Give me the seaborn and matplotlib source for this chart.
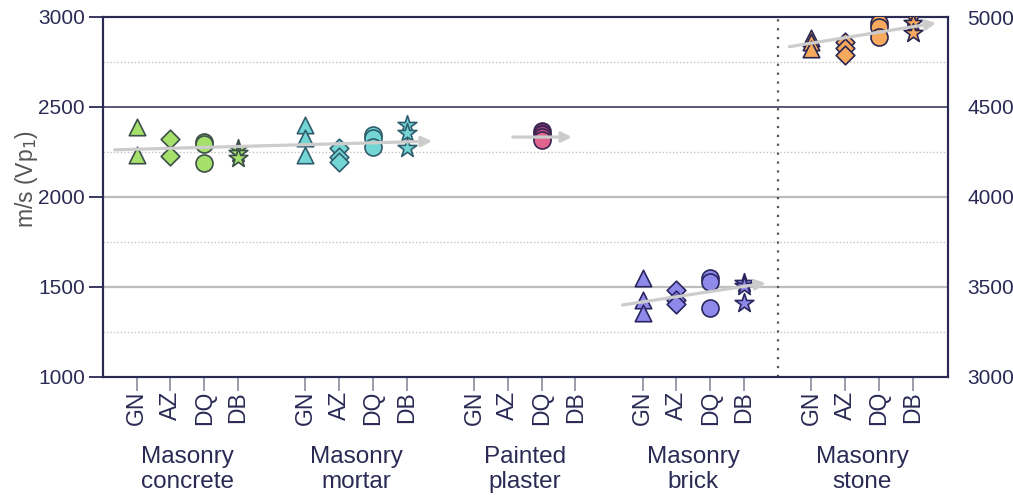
import matplotlib
matplotlib.use("Agg")
import matplotlib.pyplot as plt
import matplotlib.transforms as mtransforms
import seaborn as sns
import pandas as pd

sns.set_theme(style="white")
plt.rcParams['font.family'] = ['Liberation Sans', 'DejaVu Sans']

# ---------------- data ----------------
groups = ["Masonry\nconcrete", "Masonry\nmortar", "Painted\nplaster", "Masonry\nbrick", "Masonry\nstone"]
methods = ["GN", "AZ", "DQ", "DB"]

concrete_vals = {"GN": [2390, 2235], "AZ": [2320, 2230], "DQ": [2305, 2295, 2190], "DB": [2265, 2245, 2215]}
mortar_vals = {"GN": [2400, 2330, 2235], "AZ": [2270, 2225, 2195], "DQ": [2345, 2330, 2280], "DB": [2400, 2355, 2270]}
plaster_vals = {"GN": [], "AZ": [], "DQ": [2365, 2350, 2335, 2315], "DB": []}
brick_vals = {"GN": [1550, 1430, 1355], "AZ": [1485, 1430, 1405], "DQ": [1550, 1530, 1385], "DB": [1525, 1505, 1410]}
stone_vals = {"GN": [4885, 4860, 4820], "AZ": [4860, 4830, 4790], "DQ": [4965, 4945, 4890], "DB": [5000, 4965, 4910]}  # right axis

group_values = [concrete_vals, mortar_vals, plaster_vals, brick_vals, stone_vals]
group_colors = ["#a4e06a", "#74d6d4", "#d0568a", "#8f89ea", "#f7aa5e"]
group_edges = ["#3d4f4a", "#2f5d6e", "#3a2550", "#2a2660", "#2a2650"]
plaster_colors = ["#6e3472", "#9c4084", "#c44e89", "#e0648e"]

# trend arrows: (x start, x end) in tick units, (value start, value end)
trend_x = [(-0.65, 8.75), (11.15, 12.9), (14.4, 18.65), (19.35, 23.7)]
trend_y = [(2262, 2310), (2333, 2333), (1400, 1522), (4835, 4967)]
trend_right_axis = [False, False, False, True]

markers = {"GN": "^", "AZ": "D", "DQ": "o", "DB": "*"}
msizes = {"GN": 140, "AZ": 90, "DQ": 150, "DB": 200}

navy = "#2a2a55"

# ---------------- figure ----------------
fig = plt.figure(figsize=(10.13, 5.01), dpi=100)
ax = fig.add_axes([103 / 1013, 1 - 377 / 501, (948 - 103) / 1013, 360 / 501])
ax2 = ax.twinx()

ax.set_xlim(-1, 24.05)
ax.set_ylim(1000, 3000)
ax2.set_ylim(3000, 5000)

# grid lines
ax.axhline(2500, color="#4a4a6e", lw=1.3, zorder=0)
for v in (2000, 1500):
    ax.axhline(v, color="#bdbdbd", lw=1.6, zorder=0)
for v in (2750, 2250, 1750, 1250):
    ax.axhline(v, color="#c4c4c4", lw=1.0, ls=(0, (1, 1.5)), zorder=0)
ax.axvline(19, color="#555555", lw=1.6, ls=(0, (1, 3)), zorder=0)

# points
for gi, vals in enumerate(group_values):
    target = ax2 if gi == 4 else ax
    for mi, m in enumerate(methods):
        ys = vals[m]
        if not ys:
            continue
        pos = gi * 5 + mi
        df = pd.DataFrame({"x": [pos] * len(ys), "y": ys})
        if gi == 2:
            for yv, c in zip(ys, plaster_colors):
                sns.scatterplot(x=[pos], y=[yv], ax=target, marker=markers[m], s=msizes[m],
                                color=c, edgecolor=group_edges[gi], linewidth=1.2,
                                legend=False, zorder=3)
        else:
            sns.scatterplot(data=df, x="x", y="y", ax=target, marker=markers[m], s=msizes[m],
                            color=group_colors[gi], edgecolor=group_edges[gi], linewidth=1.2,
                            legend=False, zorder=3)

# trend arrows
for (x0, x1), (y0, y1), right in zip(trend_x, trend_y, trend_right_axis):
    target = ax2 if right else ax
    target.annotate("", xy=(x1, y1), xytext=(x0, y0),
                    arrowprops=dict(arrowstyle="-|>", color="#cccccc", lw=2.3,
                                    mutation_scale=15, shrinkA=0, shrinkB=0),
                    zorder=4)

# axes styling
ticks = [gi * 5 + mi for gi in range(len(groups)) for mi in range(len(methods))]
ax.set_xticks(ticks)
ax.set_xticklabels(methods * len(groups), rotation=90, fontsize=16.5, color=navy)
ax.tick_params(axis="x", direction="out", length=10, width=1.2, color="#8a8aa0", pad=0, bottom=True)
ax.set_yticks([1000, 1500, 2000, 2500, 3000])
ax.tick_params(axis="y", direction="out", length=10, width=1.3, color=navy, labelsize=15,
               labelcolor=navy, pad=3, left=True)
ax2.set_yticks([3000, 3500, 4000, 4500, 5000])
ax2.tick_params(axis="y", length=0, labelsize=15, labelcolor=navy, pad=14)
ax.set_xlabel("")
ax2.set_xlabel("")
ax2.set_ylabel("")
ax.set_ylabel("m/s (Vp$_1$)", fontsize=16.5, color="#555555", va="center")
ax.yaxis.set_label_coords(-0.09, 0.55)
ax2.grid(False)
ax.grid(False)

for a in (ax, ax2):
    for sp in a.spines.values():
        sp.set_color(navy)
        sp.set_linewidth(1.5)

trans = mtransforms.blended_transform_factory(ax.transData, ax.transAxes)
for gi, g in enumerate(groups):
    ax.text(gi * 5 + 1.5, -0.257, g, transform=trans, ha="center", va="center",
            fontsize=17.5, color=navy, linespacing=1.2)

fig.savefig("out.png", dpi=100, facecolor="white")
